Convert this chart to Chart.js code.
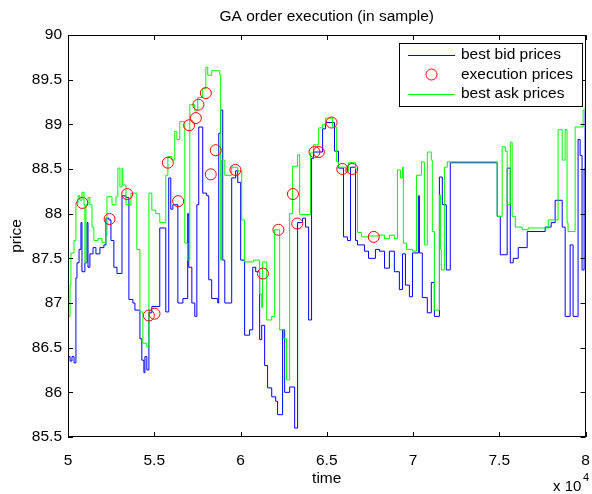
<!DOCTYPE html>
<html>
<head>
<meta charset="utf-8">
<title>GA order execution (in sample)</title>
<script src="https://cdn.jsdelivr.net/npm/chart.js@4.4.0/dist/chart.umd.min.js"></script>
<style>
	body { margin: 0; background: #fff; }
	canvas { display: block; }
</style>
</head>
<body>
<canvas id="myChart" width="592" height="494"></canvas>
<script>
// best bid prices (time, price), step series
var bidTime = [50000, 50120, 50230, 50350, 50460, 50520, 50640, 50750, 50810, 50980, 51100, 51160, 51270, 51450, 51620, 51850, 52080, 52200, 52370, 52490, 52660, 52840, 53130, 53360, 53530, 53760, 53880, 54170, 54280, 54400, 54460, 54570, 54690, 54860, 55320, 55670, 55840, 55960, 56080, 56370, 56660, 56940, 57000, 57180, 57350, 57470, 57580, 57810, 58040, 58160, 58330, 58680, 58740, 58850, 58970, 59090, 59490, 59720, 59840, 60010, 60240, 60530, 60710, 60880, 61110, 61230, 61400, 61570, 61810, 62040, 62150, 62440, 62560, 62850, 63140, 63310, 63600, 63770, 63950, 64120, 64240, 64760, 64930, 65450, 65680, 65970, 66200, 66380, 66670, 66780, 67190, 67420, 67820, 68060, 68350, 68630, 68920, 69210, 69390, 69560, 69790, 69970, 70310, 70370, 70540, 70830, 71060, 71240, 71530, 71700, 71930, 72160, 74880, 75060, 75460, 75640, 75810, 76100, 76620, 77660, 78010, 78240, 78650, 78820, 79110, 79280, 79570, 79690, 79800, 79920, 79980, 80000];
var bidPrice = [86.40, 86.35, 86.40, 86.33, 87.28, 87.45, 87.60, 87.90, 87.35, 87.45, 87.90, 87.40, 87.55, 87.62, 87.55, 87.62, 87.65, 87.95, 87.93, 87.70, 87.40, 87.33, 88.20, 88.18, 87.04, 87.00, 86.92, 86.60, 86.36, 86.22, 86.40, 86.25, 86.89, 86.96, 87.84, 86.90, 88.40, 88.05, 88.10, 87.00, 87.05, 88.00, 87.40, 87.00, 86.85, 88.10, 88.97, 88.23, 88.20, 87.26, 87.05, 87.00, 88.90, 89.16, 87.48, 87.00, 88.40, 88.48, 88.35, 87.48, 86.64, 86.70, 87.40, 87.35, 86.59, 86.75, 86.30, 86.05, 85.95, 85.90, 85.75, 86.70, 86.00, 86.06, 85.60, 87.90, 87.95, 87.85, 86.81, 88.62, 88.69, 88.95, 89.02, 88.70, 88.51, 87.74, 87.70, 88.52, 87.70, 87.65, 87.58, 87.50, 87.60, 87.58, 87.39, 87.58, 87.35, 87.15, 87.55, 87.20, 87.07, 87.56, 88.20, 87.56, 87.06, 86.89, 87.23, 86.85, 88.41, 88.10, 87.37, 88.57, 87.97, 87.54, 88.51, 87.45, 87.50, 87.62, 87.80, 87.85, 87.90, 88.15, 87.85, 86.85, 87.65, 86.85, 88.83, 88.65, 87.37, 88.50, 89.15, 89.15];

// best ask prices (time, price), step series
var askTime = [50000, 50120, 50170, 50350, 50460, 50580, 50690, 50810, 50930, 50980, 51040, 51160, 51270, 51390, 51500, 51740, 51970, 52200, 52260, 52550, 52780, 52890, 53010, 53130, 53180, 53360, 53650, 53990, 54170, 54340, 54570, 54690, 54860, 55090, 55320, 55670, 55790, 56020, 56190, 56310, 56480, 56770, 56940, 57060, 57350, 57520, 57810, 57990, 58100, 58330, 58800, 58850, 58910, 59090, 59490, 59840, 60070, 60240, 60760, 61110, 61230, 61280, 61520, 61810, 61980, 62270, 62500, 62670, 62850, 63020, 63310, 63430, 64060, 64240, 64530, 64760, 64930, 65340, 65570, 65680, 66090, 66260, 66670, 66780, 67010, 67420, 68060, 68350, 68630, 68920, 69100, 69270, 69390, 69440, 69620, 69970, 70200, 70490, 70660, 70830, 71060, 71120, 71240, 71530, 71590, 71640, 71820, 71990, 74880, 75170, 75350, 75460, 75640, 75750, 75930, 76330, 76680, 77840, 78410, 78650, 78820, 78930, 78990, 79400, 79860, 79980, 80000];
var askPrice = [86.85, 87.20, 87.56, 87.70, 88.12, 88.20, 88.15, 88.24, 88.10, 87.45, 88.10, 88.18, 88.10, 87.85, 87.70, 87.72, 87.68, 87.75, 88.19, 88.10, 88.19, 88.51, 88.30, 88.51, 88.32, 88.10, 88.23, 87.60, 86.90, 86.55, 86.51, 88.23, 88.04, 88.00, 87.90, 88.43, 88.64, 88.60, 88.92, 88.83, 89.03, 87.67, 87.48, 89.22, 89.15, 89.30, 89.40, 89.64, 89.55, 89.60, 89.55, 87.48, 88.60, 88.43, 88.52, 88.48, 87.93, 87.46, 87.48, 87.10, 86.95, 87.46, 86.81, 86.85, 87.82, 86.70, 86.60, 86.14, 88.00, 88.53, 88.66, 87.99, 88.68, 88.77, 88.96, 89.00, 89.07, 88.97, 88.58, 88.52, 88.47, 88.57, 88.50, 87.79, 87.74, 87.75, 87.76, 87.72, 87.76, 87.72, 88.49, 88.40, 88.52, 87.67, 87.60, 87.58, 88.43, 88.58, 87.65, 88.69, 88.60, 87.80, 86.92, 88.21, 87.60, 87.37, 88.52, 88.58, 87.97, 88.75, 88.70, 88.10, 88.80, 87.97, 87.85, 87.82, 87.84, 87.93, 88.94, 88.60, 88.94, 87.90, 87.80, 88.97, 89.16, 89.20, 89.20];

// execution prices
var execTime = [50830, 52410, 53430, 54690, 55015, 55790, 56385, 57020, 57410, 57560, 57990, 58275, 58565, 59705, 61300, 62200, 63040, 63290, 64290, 64545, 65280, 65900, 66475, 67725];
var execPrice = [88.12, 87.94, 88.22, 86.86, 86.88, 88.57, 88.14, 88.99, 89.07, 89.22, 89.35, 88.44, 88.71, 88.49, 87.33, 87.82, 88.22, 87.89, 88.69, 88.69, 89.02, 88.50, 88.50, 87.74];

var xTicks = [50000, 55000, 60000, 65000, 70000, 75000, 80000];
var yTicks = [85.5, 86, 86.5, 87, 87.5, 88, 88.5, 89, 89.5, 90];

var FONT = "'Liberation Sans', Arial, Helvetica, sans-serif";

function pairs(xs, ys) {
	var out = [];
	for (var i = 0; i < xs.length; i++) {
		out.push({ x: xs[i], y: ys[i] });
	}
	return out;
}

// matlab style frame, inward ticks, texts and legend
var matlabFrame = {
	id: "matlabFrame",
	afterDraw: function(chart) {
		var ctx = chart.ctx;
		var a = chart.chartArea;
		var xs = chart.scales.x;
		var ys = chart.scales.y;
		ctx.save();
		ctx.strokeStyle = "#000";
		ctx.lineWidth = 1;
		ctx.strokeRect(Math.round(a.left) + 0.5, Math.round(a.top) + 0.5, Math.round(a.right - a.left) - 1, Math.round(a.bottom - a.top) - 1);
		ctx.beginPath();
		xTicks.forEach(function(t) {
			var p = Math.round(xs.getPixelForValue(t)) + 0.5;
			ctx.moveTo(p, a.bottom); ctx.lineTo(p, a.bottom - 5);
			ctx.moveTo(p, a.top); ctx.lineTo(p, a.top + 5);
		});
		yTicks.forEach(function(t) {
			var p = Math.round(ys.getPixelForValue(t)) + 0.5;
			ctx.moveTo(a.left, p); ctx.lineTo(a.left + 5, p);
			ctx.moveTo(a.right, p); ctx.lineTo(a.right - 5, p);
		});
		ctx.stroke();

		ctx.fillStyle = "#000";
		ctx.textBaseline = "middle";
		ctx.textAlign = "center";
		ctx.font = "15.5px " + FONT;
		ctx.fillText("GA order execution (in sample)", (a.left + a.right) / 2, 17);
		ctx.fillText("time", (a.left + a.right) / 2, 479);
		ctx.save();
		ctx.translate(17, (a.top + a.bottom) / 2);
		ctx.rotate(-Math.PI / 2);
		ctx.fillText("price", 0, 0);
		ctx.restore();
		ctx.textAlign = "left";
		ctx.font = "15px " + FONT;
		ctx.fillText("x 10", 553, 487);
		ctx.font = "11px " + FONT;
		ctx.fillText("4", 583, 478);

		// legend
		var bx = 399, by = 43, bw = 183, bh = 63;
		ctx.fillStyle = "#fff";
		ctx.fillRect(bx, by, bw, bh);
		ctx.strokeRect(bx + 0.5, by + 0.5, bw, bh);
		ctx.font = "15.5px " + FONT;
		chart.data.datasets.forEach(function(ds, i) {
			var ry = 55 + i * 19.5;
			if (ds.showLine === false) {
				ctx.beginPath();
				ctx.strokeStyle = ds.pointBorderColor;
				ctx.arc(431.5, ry, 5.5, 0, Math.PI * 2);
				ctx.stroke();
			} else {
				ctx.beginPath();
				ctx.strokeStyle = ds.borderColor;
				ctx.moveTo(408, Math.round(ry) + 0.5);
				ctx.lineTo(455, Math.round(ry) + 0.5);
				ctx.stroke();
			}
			ctx.fillStyle = "#000";
			ctx.fillText(ds.label, 461, ry);
		});
		ctx.restore();
	}
};

var ctx = document.getElementById("myChart");

var data = {
	datasets: [
		{
			label: "best bid prices",
			data: pairs(bidTime, bidPrice),
			borderColor: "#0000ff",
			borderWidth: 1,
			stepped: "before",
			pointRadius: 0,
			fill: false,
			order: 3
		},
		{
			label: "execution prices",
			data: pairs(execTime, execPrice),
			showLine: false,
			pointRadius: 5.5,
			pointBorderWidth: 1,
			pointBorderColor: "#ff0000",
			pointBackgroundColor: "rgba(0,0,0,0)",
			order: 1
		},
		{
			label: "best ask prices",
			data: pairs(askTime, askPrice),
			borderColor: "#00ff00",
			borderWidth: 1,
			stepped: "before",
			pointRadius: 0,
			fill: false,
			order: 2
		}
	]
};

var myChart = new Chart(ctx, {
	type: "line",
	data: data,
	plugins: [matlabFrame],
	options: {
		responsive: false,
		animation: false,
		events: [],
		layout: { padding: { left: 0, top: 35, right: 5, bottom: 0 } },
		plugins: {
			legend: { display: false },
			title: { display: false },
			tooltip: { enabled: false }
		},
		scales: {
			x: {
				type: "linear",
				min: 50000,
				max: 80000,
				afterFit: function(scale) {
					scale.height = 57;
					scale.paddingLeft = 0;
					scale.paddingRight = 0;
				},
				afterBuildTicks: function(scale) {
					scale.ticks = xTicks.map(function(v) { return { value: v }; });
				},
				grid: { display: false, drawTicks: false },
				border: { display: false },
				ticks: {
					color: "#000",
					padding: 14,
					maxRotation: 0,
					font: { family: FONT, size: 15.5 },
					callback: function(v) { return String(+(v / 10000).toFixed(2)); }
				}
			},
			y: {
				type: "linear",
				min: 85.5,
				max: 90,
				afterFit: function(scale) {
					scale.width = 68;
					scale.paddingTop = 0;
					scale.paddingBottom = 0;
				},
				afterBuildTicks: function(scale) {
					scale.ticks = yTicks.map(function(v) { return { value: v }; });
				},
				grid: { display: false, drawTicks: false },
				border: { display: false },
				ticks: {
					color: "#000",
					padding: 6,
					font: { family: FONT, size: 15.5 },
					callback: function(v) { return String(+v.toFixed(1)); }
				}
			}
		}
	}
});
</script>
</body>
</html>
